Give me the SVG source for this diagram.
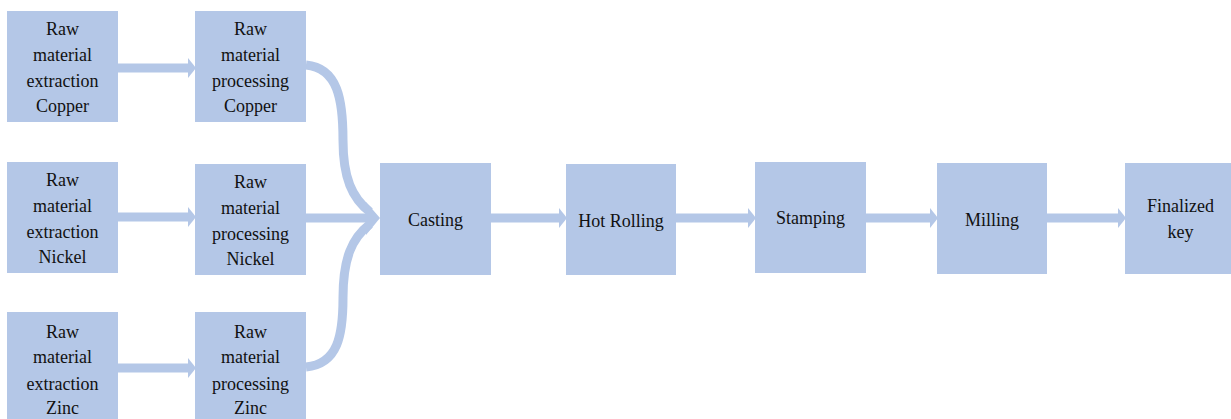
<svg xmlns="http://www.w3.org/2000/svg" width="1231" height="419" viewBox="0 0 1231 419">
  <style>
    .box { fill: #B4C7E7; }
    .lbl { font-family: "Liberation Serif", "Times New Roman", serif; font-size: 18px; fill: #111; text-anchor: middle; }
    .flow { fill: none; stroke: #B4C7E7; stroke-width: 9; }
    .head { fill: #B4C7E7; }
  </style>
  <defs>
    <marker id="arrow" markerUnits="userSpaceOnUse" markerWidth="10" markerHeight="22" refX="0" refY="10" orient="auto" overflow="visible">
      <polygon class="head" points="0,0 8,10 0,20"/>
    </marker>
  </defs>
  <rect width="1231" height="419" fill="#fff"/>

  <g id="connectors">
    <!-- extraction to processing -->
    <path class="flow" d="M118,68 H188" marker-end="url(#arrow)"/>
    <path class="flow" d="M118,217 H188" marker-end="url(#arrow)"/>
    <path class="flow" d="M118,368 H188" marker-end="url(#arrow)"/>
    <!-- processing lines merging into casting -->
    <path class="flow" d="M306,65 C338,68 343,100 343,140 C343,178 352,198 370,212"/>
    <path class="flow" d="M306,218 H368"/>
    <path class="flow" d="M306,367 C338,364 343,335 343,298 C343,258 352,238 370,224"/>
    <polygon class="head" points="366,202 380,218 366,235"/>
    <!-- main production chain -->
    <path class="flow" d="M491,218 H559" marker-end="url(#arrow)"/>
    <path class="flow" d="M676,218 H748" marker-end="url(#arrow)"/>
    <path class="flow" d="M866,218 H930" marker-end="url(#arrow)"/>
    <path class="flow" d="M1047,218 H1118" marker-end="url(#arrow)"/>
  </g>

  <g id="extract-copper">
    <rect class="box" x="7" y="11" width="111" height="111"/>
    <text class="lbl" x="62.5" y="35">Raw</text>
    <text class="lbl" x="62.5" y="61">material</text>
    <text class="lbl" x="62.5" y="87">extraction</text>
    <text class="lbl" x="62.5" y="112">Copper</text>
  </g>
  <g id="process-copper">
    <rect class="box" x="195" y="11" width="111" height="111"/>
    <text class="lbl" x="250.5" y="35">Raw</text>
    <text class="lbl" x="250.5" y="61">material</text>
    <text class="lbl" x="250.5" y="87">processing</text>
    <text class="lbl" x="250.5" y="112">Copper</text>
  </g>
  <g id="extract-nickel">
    <rect class="box" x="7" y="162" width="111" height="111"/>
    <text class="lbl" x="62.5" y="186">Raw</text>
    <text class="lbl" x="62.5" y="212">material</text>
    <text class="lbl" x="62.5" y="238">extraction</text>
    <text class="lbl" x="62.5" y="263">Nickel</text>
  </g>
  <g id="process-nickel">
    <rect class="box" x="195" y="164" width="111" height="111"/>
    <text class="lbl" x="250.5" y="188">Raw</text>
    <text class="lbl" x="250.5" y="214">material</text>
    <text class="lbl" x="250.5" y="240">processing</text>
    <text class="lbl" x="250.5" y="265">Nickel</text>
  </g>
  <g id="extract-zinc">
    <rect class="box" x="7" y="312" width="111" height="111"/>
    <text class="lbl" x="62.5" y="338">Raw</text>
    <text class="lbl" x="62.5" y="363">material</text>
    <text class="lbl" x="62.5" y="390">extraction</text>
    <text class="lbl" x="62.5" y="414">Zinc</text>
  </g>
  <g id="process-zinc">
    <rect class="box" x="195" y="312" width="111" height="111"/>
    <text class="lbl" x="250.5" y="338">Raw</text>
    <text class="lbl" x="250.5" y="363">material</text>
    <text class="lbl" x="250.5" y="390">processing</text>
    <text class="lbl" x="250.5" y="414">Zinc</text>
  </g>
  <g id="casting">
    <rect class="box" x="380" y="163" width="111" height="112"/>
    <text class="lbl" x="435.5" y="226">Casting</text>
  </g>
  <g id="hot-rolling">
    <rect class="box" x="566" y="164" width="110" height="111"/>
    <text class="lbl" x="621" y="227">Hot Rolling</text>
  </g>
  <g id="stamping">
    <rect class="box" x="755" y="162" width="111" height="111"/>
    <text class="lbl" x="810.5" y="224">Stamping</text>
  </g>
  <g id="milling">
    <rect class="box" x="937" y="163" width="110" height="111"/>
    <text class="lbl" x="992" y="226">Milling</text>
  </g>
  <g id="finalized-key">
    <rect class="box" x="1125" y="163" width="111" height="111"/>
    <text class="lbl" x="1180.5" y="212">Finalized</text>
    <text class="lbl" x="1180.5" y="238">key</text>
  </g>
</svg>
